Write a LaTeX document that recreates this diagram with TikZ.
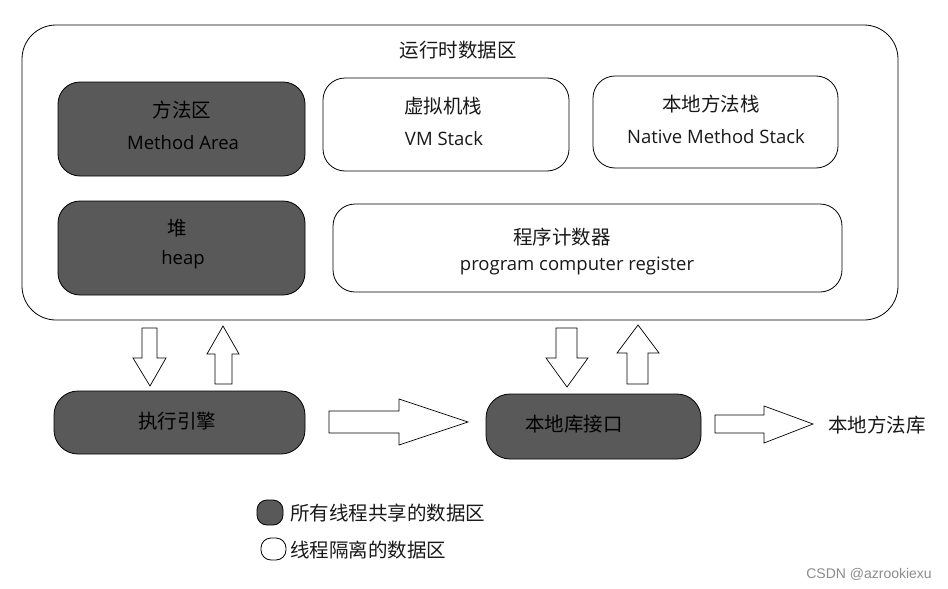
\documentclass[tikz,border=0pt]{standalone}
\usepackage{fontspec}
\setmainfont{Open Sans}
\newfontfamily\cjkf{Noto Sans CJK SC}
\newcommand{\zh}{\cjkf\fontsize{19.5}{22}\selectfont}
\begin{document}
\begin{tikzpicture}[x=1pt,y=-1pt,
  txt/.style={text=black!90, font=\fontsize{18.5}{21}\selectfont},
  darkbox/.style={draw=black, line width=0.8pt, fill=black!65, rounded corners=22pt},
  lightbox/.style={draw=black, line width=0.8pt, fill=white, rounded corners=22pt},
  blockarrow/.style={draw=black, line width=0.7pt, fill=white, line join=miter}]
\useasboundingbox (0,0) rectangle (948,589);
\fill[white] (0,0) rectangle (948,589);
% outer box
\draw[line width=0.8pt, rounded corners=34pt] (22,25) rectangle (898,320);
\node[txt] (title) at (458,50) {\zh 运行时数据区};
% method area
\draw[darkbox] (58,82) rectangle (305,176);
\node[txt, text=black] (ma1) at (182,110) {\zh 方法区};
\node[txt, text=black] (ma2) at (183,143) {Method Area};
% vm stack
\draw[lightbox] (323,78) rectangle (569,171);
\node[txt] (vm1) at (443,106) {\zh 虚拟机栈};
\node[txt] (vm2) at (444,139) {VM Stack};
% native method stack
\draw[lightbox] (593,76) rectangle (838,168);
\node[txt] (nm1) at (711,104) {\zh 本地方法栈};
\node[txt] (nm2) at (716,137) {Native Method Stack};
% heap
\draw[darkbox] (58,201) rectangle (305,295);
\node[txt, text=black] (hp1) at (177,228) {\zh 堆};
\node[txt, text=black] (hp2) at (183,260) {heap};
% program counter
\draw[lightbox] (333,204) rectangle (842,292);
\node[txt] (pc1) at (562,237) {\zh 程序计数器};
\node[txt] (pc2) at (577,266) {program computer register};
% execution engine
\draw[darkbox, rounded corners=24pt] (54,391) rectangle (305,454);
\node[txt, text=black] (ee) at (177,421) {\zh 执行引擎};
% native interface
\draw[darkbox, rounded corners=24pt] (486,394) rectangle (701,459);
\node[txt, text=black] (ni) at (574,424) {\zh 本地库接口};
\node[txt, anchor=west, inner xsep=0pt] (nl) at (828,425) {\zh 本地方法库};
% arrows
\draw[blockarrow] (142,328) -- (157,328) -- (157,358) -- (166,358) -- (150,386) -- (133,358) -- (142,358) -- cycle;
\draw[blockarrow] (215,384) -- (232,384) -- (232,354) -- (239,354) -- (223,326) -- (207,354) -- (215,354) -- cycle;
\draw[blockarrow] (556,328) -- (577,328) -- (577,358) -- (588,358) -- (567,387) -- (546,358) -- (556,358) -- cycle;
\draw[blockarrow] (627,384) -- (648,384) -- (648,353) -- (659,353) -- (638,325) -- (617,353) -- (627,353) -- cycle;
\draw[blockarrow] (329,411) -- (399,411) -- (399,399) -- (468,422) -- (399,445) -- (399,433) -- (329,433) -- cycle;
\draw[blockarrow] (715,415) -- (764,415) -- (764,406) -- (813,424) -- (764,443) -- (764,433) -- (715,433) -- cycle;
% legend
\draw[line width=0.8pt, fill=black!65, rounded corners=10pt] (257,500) rectangle (283,525);
\node[txt, anchor=west, inner xsep=0pt] (lg1) at (290,513) {\zh 所有线程共享的数据区};
\draw[line width=0.8pt, fill=white, rounded corners=10pt] (261,538) rectangle (286,560);
\node[txt, anchor=west, inner xsep=0pt] (lg2) at (290,550) {\zh 线程隔离的数据区};
% watermark
\node[text=black!45, font=\fontspec{Liberation Sans}\fontsize{14}{16}\selectfont, anchor=east, inner xsep=0pt] (wm) at (932,574) {CSDN @azrookiexu};
\end{tikzpicture}
\end{document}
